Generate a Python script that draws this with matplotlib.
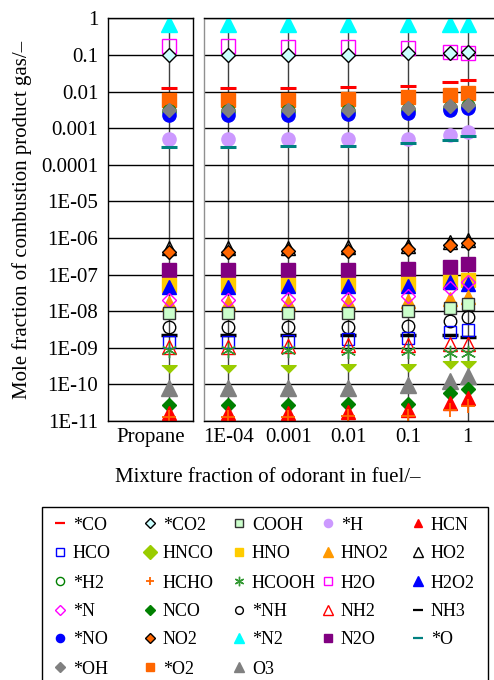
import numpy as np
import matplotlib
matplotlib.use("Agg")
import matplotlib.pyplot as plt
from matplotlib.lines import Line2D
from matplotlib.patches import Rectangle
from matplotlib.ticker import FixedLocator, FixedFormatter, NullLocator

plt.rcParams["font.family"] = ["Liberation Serif", "DejaVu Serif"]

# odorant mixture fractions for the right panel (left panel = pure propane)
odorant_frac = [1e-4, 1e-3, 1e-2, 0.1, 0.5, 1.0]
x_ticks = [1e-4, 1e-3, 1e-2, 0.1, 1.0]
x_tick_labels = ["1E-04", "0.001", "0.01", "0.1", "1"]
y_ticks = [10.0 ** k for k in range(-11, 1)]
y_tick_labels = ["1E-11", "1E-10", "1E-09", "1E-08", "1E-07", "1E-06", "1E-05",
                 "0.0001", "0.001", "0.01", "0.1", "1"]

# mole fractions: [propane, 1E-04, 0.001, 0.01, 0.1, 0.5, 1]
n2 = [0.68, 0.68, 0.68, 0.68, 0.68, 0.68, 0.68]
h2o = [0.17, 0.17, 0.165, 0.16, 0.155, 0.117, 0.113]
co2 = [0.097, 0.097, 0.098, 0.1, 0.11, 0.115, 0.122]
co = [0.0126, 0.0126, 0.0127, 0.013, 0.0141, 0.0178, 0.0202]
o2 = [0.006, 0.006, 0.006, 0.0062, 0.0071, 0.008, 0.0089]
h2 = [0.0029, 0.0029, 0.0029, 0.003, 0.0032, 0.0036, 0.004]
no = [0.0023, 0.0023, 0.0023, 0.0024, 0.0026, 0.0031, 0.0035]
oh = [0.0031, 0.0031, 0.0031, 0.0032, 0.0035, 0.004, 0.0043]
h = [0.00049, 0.00049, 0.00049, 0.00049, 0.0005, 0.00064, 0.00079]
o = [0.00031, 0.00031, 0.00032, 0.00033, 0.00039, 0.00048, 0.00062]
ho2 = [5.2e-7, 5.2e-7, 5.3e-7, 5.5e-7, 6e-7, 7.6e-7, 8.6e-7]
no2 = [4.2e-7, 4.2e-7, 4.3e-7, 4.5e-7, 5.0e-7, 6.4e-7, 7.4e-7]
n2o = [1.3e-7, 1.3e-7, 1.3e-7, 1.3e-7, 1.4e-7, 1.6e-7, 1.9e-7]
hno = [5.2e-8, 5.2e-8, 5.2e-8, 5.2e-8, 5.4e-8, 6.1e-8, 7.3e-8]
h2o2 = [4.7e-8, 4.7e-8, 4.8e-8, 5e-8, 5e-8, 6.3e-8, 5.5e-8]
hno2 = [1.7e-8, 1.7e-8, 1.7e-8, 1.8e-8, 1.9e-8, 2.2e-8, 2.5e-8]
n = [2e-8, 2e-8, 2.1e-8, 2.2e-8, 2.6e-8, 4.4e-8, 6.4e-8]
cooh = [8.7e-9, 8.7e-9, 8.8e-9, 9e-9, 9.8e-9, 1.2e-8, 1.6e-8]
nh = [3.6e-9, 3.6e-9, 3.6e-9, 3.7e-9, 3.9e-9, 5.5e-9, 7e-9]
nh3 = [2.2e-9, 2.2e-9, 2.2e-9, 2.3e-9, 2.3e-9, 2.3e-9, 2e-9]
hco = [1.45e-9, 1.45e-9, 1.5e-9, 1.7e-9, 1.8e-9, 2.7e-9, 3.1e-9]
nh2 = [1.07e-9, 1.07e-9, 1.1e-9, 1.2e-9, 1.2e-9, 1.3e-9, 1.3e-9]
hcooh = [8.7e-10, 8.7e-10, 8.5e-10, 8e-10, 8e-10, 7.4e-10, 7.4e-10]
hnco = [2.7e-10, 2.7e-10, 2.7e-10, 2.8e-10, 2.8e-10, 3.4e-10, 3.4e-10]
o3 = [7.8e-11, 7.8e-11, 7.8e-11, 7.8e-11, 9.7e-11, 1.25e-10, 1.7e-10]
nco = [2.7e-11, 2.7e-11, 2.8e-11, 3e-11, 3e-11, 5.7e-11, 7.7e-11]
hcn = [1.7e-11, 1.7e-11, 1.7e-11, 1.8e-11, 2e-11, 3.2e-11, 4.3e-11]
hcho = [1.3e-11, 1.3e-11, 1.3e-11, 1.35e-11, 1.4e-11, 2e-11, 2.5e-11]

# legend order (row by row as in the reference)
legend_rows = [
    ["*CO", "*CO2", "COOH", "*H", "HCN"],
    ["HCO", "HNCO", "HNO", "HNO2", "HO2"],
    ["*H2", "HCHO", "HCOOH", "H2O", "H2O2"],
    ["*N", "NCO", "*NH", "NH2", "NH3"],
    ["*NO", "NO2", "*N2", "N2O", "*O"],
    ["*OH", "*O2", "O3"],
]

ASTER = (6, 2, 0)
DOWN_TRI = [(-1, 0.5), (1, 0.5), (0, -0.5)]

# label: (values, marker, face, edge, size, edge width)
series = [
    ("*N2", n2, "^", "#00FFFF", "#00FFFF", 11, 1),
    ("H2O", h2o, "s", "none", "#FF00FF", 10, 1),
    ("*CO2", co2, "D", "#CCFFFF", "black", 7.5, 1),
    ("*CO", co, "_", "red", "red", 11, 2.2),
    ("*O2", o2, "s", "#FF6600", "#FF6600", 9.5, 1),
    ("*H2", h2, "o", "none", "#008000", 9.5, 1),
    ("*NO", no, "o", "#0000FF", "#0000FF", 9.5, 1),
    ("*OH", oh, "D", "#808080", "#808080", 7.5, 1),
    ("*H", h, "o", "#CC99FF", "#CC99FF", 9.5, 1),
    ("*O", o, "_", "#008080", "#008080", 11, 2.2),
    ("HO2", ho2, "^", "none", "black", 10.5, 1),
    ("NO2", no2, "D", "#FF6600", "black", 7.5, 1),
    ("N2O", n2o, "s", "#800080", "#800080", 9.5, 1),
    ("HNO", hno, "s", "#FFCC00", "#FFCC00", 9.5, 1),
    ("H2O2", h2o2, "^", "#0000FF", "#0000FF", 10.5, 1),
    ("HNO2", hno2, "^", "#FF9900", "#FF9900", 10.5, 1),
    ("*N", n, "D", "none", "#FF00FF", 7.5, 1),
    ("COOH", cooh, "s", "#CCFFCC", "#333333", 9, 1),
    ("*NH", nh, "o", "none", "black", 9, 1),
    ("NH3", nh3, "_", "black", "black", 11, 2.5),
    ("HCO", hco, "s", "none", "#0000FF", 9, 1),
    ("NH2", nh2, "^", "none", "red", 10.5, 1),
    ("HCOOH", hcooh, ASTER, "#339933", "#339933", 11, 1),
    ("HNCO", hnco, DOWN_TRI, "#99CC00", "#99CC00", 11, 1),
    ("O3", o3, "^", "#808080", "#808080", 11, 1),
    ("NCO", nco, "D", "#008000", "#008000", 7.5, 1),
    ("HCN", hcn, "^", "red", "red", 10, 1),
    ("HCHO", hcho, "+", "#FF6600", "#FF6600", 10, 1.3),
]

W, H = 494, 680
fig = plt.figure(figsize=(W / 100, H / 100), dpi=100)


def fx(x):
    return x / W


def fy(y):
    return 1 - y / H


top, bot = 18.3, 421
ax_l = fig.add_axes([fx(108), fy(bot), fx(193) - fx(108), (bot - top) / H])
ax_r = fig.add_axes([fx(204), fy(bot), fx(497) - fx(204), (bot - top) / H])

propane_x = 0.72
for ax in (ax_l, ax_r):
    ax.set_yscale("log")
    ax.set_ylim(1e-11, 1)
    ax.yaxis.set_major_locator(FixedLocator(y_ticks))
    ax.yaxis.set_minor_locator(NullLocator())
    ax.grid(axis="y", color="black", lw=1)
    ax.set_axisbelow(True)
    ax.tick_params(length=0, labelsize=15)
    for s in ax.spines.values():
        s.set_linewidth(1)

ax_l.yaxis.set_major_formatter(FixedFormatter(y_tick_labels))
ax_l.tick_params(axis="y", pad=7)
ax_l.tick_params(axis="x", pad=5)
ax_l.set_xlim(0, 1)
ax_l.set_xticks([0.5])
ax_l.set_xticklabels(["Propane"])
ax_l.axvline(propane_x, color="#404040", lw=1, zorder=0.5)

ax_r.set_xscale("log")
ax_r.set_xlim(10 ** -4.406, 10 ** 0.49)
ax_r.xaxis.set_major_locator(FixedLocator(x_ticks))
ax_r.xaxis.set_major_formatter(FixedFormatter(x_tick_labels))
ax_r.xaxis.set_minor_locator(NullLocator())
ax_r.tick_params(axis="x", pad=5)
ax_r.set_yticklabels([])
ax_r.grid(axis="x", color="#404040", lw=1)
ax_r.spines["left"].set_color("#909090")

for label, vals, mk, fc, ec, ms, mew in series:
    ax_l.plot([propane_x], vals[:1], ls="none", marker=mk, mfc=fc, mec=ec,
              ms=ms, mew=mew)
    ax_r.plot(odorant_frac, vals[1:], ls="none", marker=mk, mfc=fc, mec=ec,
              ms=ms, mew=mew)

fig.text(fx(22), fy((top + bot) / 2), "Mole fraction of combustion product gas/\u2013",
         rotation=90, ha="center", va="center", fontsize=15)
fig.text(fx(268), fy(477), "Mixture fraction of odorant in fuel/\u2013",
         ha="center", va="center", fontsize=15)

# legend drawn on a fixed grid like the original
styles = {s[0]: s[2:] for s in series}
fig.add_artist(Rectangle((fx(42), fy(700)), fx(488) - fx(42), (700 - 507) / H,
                         transform=fig.transFigure, fill=False, ec="black", lw=1))
row_y = [523, 552, 581, 609.5, 638, 667]
col_x = [60, 150, 239, 328, 418]
for r, row in enumerate(legend_rows):
    for c, label in enumerate(row):
        mk, fc, ec, ms, mew = styles[label]
        if label == "HNCO":
            mk = "D"
        fig.add_artist(Line2D([fx(col_x[c])], [fy(row_y[r])], transform=fig.transFigure,
                              ls="none", marker=mk, mfc=fc, mec=ec, ms=ms * 0.62,
                              mew=min(mew, 1.6)))
        fig.text(fx(col_x[c] + 13), fy(row_y[r]), label, ha="left",
                 va="center_baseline", fontsize=13)

fig.savefig("out.png", dpi=100)
